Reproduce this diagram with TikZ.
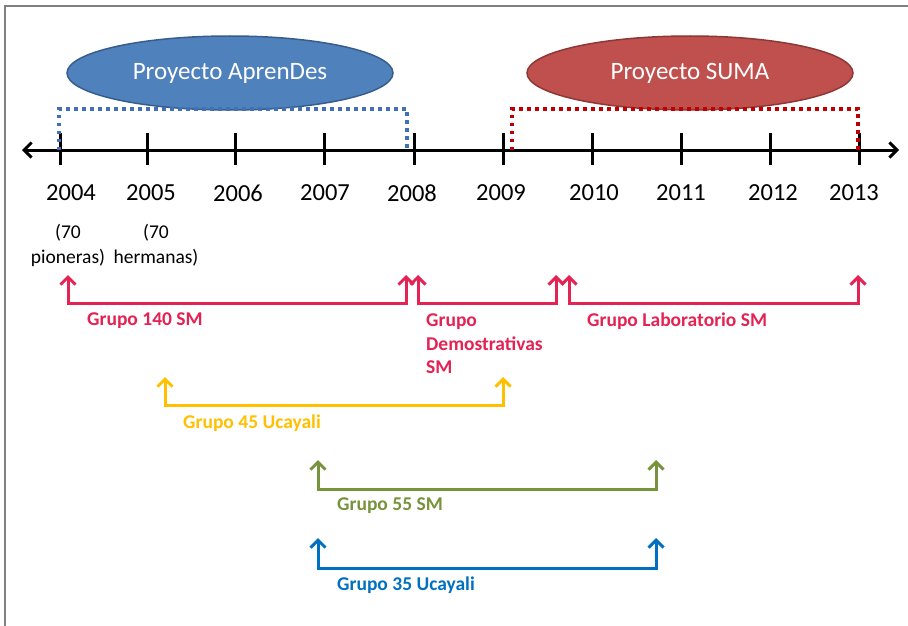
\documentclass[tikz,border=0pt]{standalone}
\usepackage{fontspec}
\setmainfont{Carlito}
\usetikzlibrary{arrows.meta,shapes.geometric}
\definecolor{crim}{RGB}{228,34,84}
\definecolor{yel}{RGB}{255,192,0}
\definecolor{grn}{RGB}{119,147,60}
\definecolor{blu}{RGB}{0,112,192}
\definecolor{dotb}{RGB}{65,113,180}
\definecolor{dotr}{RGB}{192,0,0}
\definecolor{ellb}{RGB}{79,129,189}
\definecolor{ellbd}{RGB}{56,93,138}
\definecolor{ellr}{RGB}{192,80,77}
\definecolor{ellrd}{RGB}{140,56,54}
\tikzset{
  barb/.tip={Straight Barb[length=7.5pt,width=15pt,line width=3pt]},
  axisline/.style={line width=3pt,black,barb-barb},
  tickline/.style={line width=3pt,black},
  year/.style={font=\fontsize{24.5}{28}\selectfont,inner sep=0pt},
  note/.style={font=\fontsize{19.5}{25}\selectfont,align=center,inner sep=0pt},
  proj/.style={ellipse,minimum width=326pt,minimum height=74pt,line width=1.5pt,text=white,font=\fontsize{25}{28}\selectfont},
  dotline/.style={line width=3.5pt,dash pattern=on 3.5pt off 4.5pt},
  grp/.style={line width=3pt,draw=#1,barb-barb},
  glabel/.style={font=\bfseries\fontsize{19.5}{23.5}\selectfont,text=#1,anchor=west,align=left,inner sep=0pt},
}
\begin{document}
\begin{tikzpicture}[x=1pt,y=-1pt]
\useasboundingbox (0,0) rectangle (908,626);
\fill[white] (0,0) rectangle (908,626);
\draw[line width=1.5pt,gray] (5,626) -- (5,6) -- (908,6);

% ellipses
\node[proj,fill=ellb,draw=ellbd] (apr) at (230,73) {Proyecto AprenDes};
\node[proj,fill=ellr,draw=ellrd] (suma) at (690,73) {Proyecto SUMA};

% axis
\coordinate (axL) at (22,150);
\coordinate (axR) at (899,150);
\draw[axisline] (axL) -- (axR);
\foreach \x/\lx/\yr in {60/71/2004,147/151/2005,235/238/2006,324/325/2007,414/412/2008,503/501/2009,592/594/2010,681/681/2011,770/773/2012,859/854/2013}{
  \coordinate (t\yr) at (\x,150);
  \draw[tickline] (\x,133) -- (\x,165);
  \node[year] (y\yr) at (\lx,193) {\yr};
}

% dotted brackets
\coordinate (bA1) at (59,150); \coordinate (bA2) at (59,109);
\coordinate (bA3) at (407,109); \coordinate (bA4) at (407,148);
\draw[dotline,dotb] (bA1) -- (bA2) -- (bA3) -- (bA4);
\coordinate (bS1) at (512,150); \coordinate (bS2) at (512,109);
\coordinate (bS3) at (858,109); \coordinate (bS4) at (858,150);
\draw[dotline,dotr] (bS1) -- (bS2) -- (bS3) -- (bS4);

% notes
\node[note] (n1) at (68,245) {(70\\pioneras)};
\node[note] (n2) at (156,245) {(70\\hermanas)};

% groups
\coordinate (g1a) at (68,275); \coordinate (g1b) at (406,275);
\draw[grp=crim] (g1a) -- (68,303) -- (406,303) -- (g1b);
\node[glabel=crim] (l1) at (87,321) {Grupo 140 SM};

\coordinate (g2a) at (418,275); \coordinate (g2b) at (556,275);
\draw[grp=crim] (g2a) -- (418,303) -- (556,303) -- (g2b);
\node[glabel=crim] (l2) at (426,344) {Grupo\\Demostrativas\\SM};

\coordinate (g3a) at (569,275); \coordinate (g3b) at (858,275);
\draw[grp=crim] (g3a) -- (569,303) -- (858,303) -- (g3b);
\node[glabel=crim] (l3) at (587,321) {Grupo Laboratorio SM};

\coordinate (g4a) at (165,377); \coordinate (g4b) at (503,377);
\draw[grp=yel] (g4a) -- (165,405) -- (503,405) -- (g4b);
\node[glabel=yel] (l4) at (183,423) {Grupo 45 Ucayali};

\coordinate (g5a) at (318,460); \coordinate (g5b) at (656,460);
\draw[grp=grn] (g5a) -- (318,489) -- (656,489) -- (g5b);
\node[glabel=grn] (l5) at (337,506) {Grupo 55 SM};

\coordinate (g6a) at (318,538); \coordinate (g6b) at (656,538);
\draw[grp=blu] (g6a) -- (318,568) -- (656,568) -- (g6b);
\node[glabel=blu] (l6) at (337,585) {Grupo 35 Ucayali};
\end{tikzpicture}
\end{document}
